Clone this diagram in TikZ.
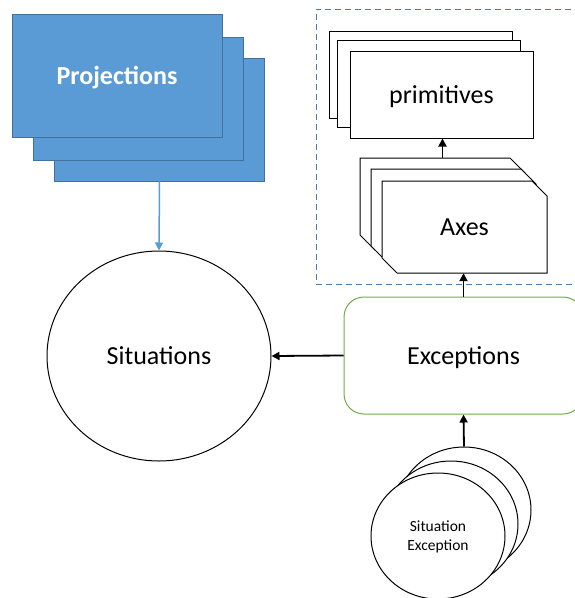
\documentclass[tikz,border=0pt]{standalone}
\usepackage{fontspec}
\setmainfont{Carlito}
\usetikzlibrary{shapes.geometric,arrows.meta}
\definecolor{projfill}{HTML}{5B9BD5}
\definecolor{projline}{HTML}{41719C}
\definecolor{exgreen}{HTML}{70AD47}
\definecolor{grpblue}{HTML}{4F79A7}
\tikzset{
  bigtext/.style={font=\fontsize{26}{30}\selectfont, text height=17.8pt, text depth=0pt},
  projbox/.style={rectangle, fill=projfill, draw=projline, line width=0.9pt, minimum width=210pt, minimum height=123pt, inner sep=0pt},
  primbox/.style={rectangle, fill=white, draw=black, line width=1pt, minimum width=183pt, minimum height=87pt, inner sep=0pt, bigtext},
  axesanchor/.style={rectangle, minimum width=165pt, minimum height=92pt, inner sep=0pt, bigtext},
  snipline/.style={fill=white, draw=black, line width=1pt, line join=miter},
  bigcirc/.style={ellipse, draw=black, line width=1pt, fill=white, minimum width=224pt, minimum height=210pt, inner sep=0pt, bigtext},
  smallcirc/.style={ellipse, draw=black, line width=1pt, fill=white, minimum width=134pt, minimum height=126pt, inner sep=0pt, align=center, font=\fontsize{15.5}{19}\selectfont},
  excbox/.style={rectangle, rounded corners=20pt, draw=exgreen, line width=1pt, fill=white, minimum width=239pt, minimum height=117pt, inner sep=0pt, bigtext},
  grpbox/.style={rectangle, draw=grpblue, line width=0.9pt, dash pattern=on 6pt off 4pt, minimum width=270pt, minimum height=275pt, inner sep=0pt},
  blackarrow/.style={draw=black, line width=1.8pt, -{Triangle[length=8pt,width=8pt]}},
  bluearrow/.style={draw=projfill, line width=1.5pt, -{Triangle[length=8pt,width=8pt]}}
}
\newcommand\snipshape[2]{\path[snipline] (#1-82.5,#2-46) -- (#1+67.5,#2-46) -- (#1+82.5,#2-31) -- (#1+82.5,#2+46) -- (#1-67.5,#2+46) -- (#1-82.5,#2+31) -- cycle;}
\begin{document}
\begin{tikzpicture}[x=1pt,y=-1pt]
\clip (0,0) rectangle (575,598);
\fill[white] (0,0) rectangle (575,598);
% Projections stack
\node[projbox] (projC) at (159.5,119.5) {};
\node[projbox] (projB) at (138,98.5) {};
\node[projbox, text=white, bigtext, font=\bfseries\fontsize{26}{30}\selectfont] (proj) at (117,75.5) {Projections};
% Situations
\node[bigcirc] (sit) at (159,356) {Situations};
\draw[bluearrow] (projC.south) -- (sit.north);
% group box
\node[grpbox] (grp) at (451,146.5) {};
% primitives stack
\node[primbox] (primC) at (420.5,75) {};
\node[primbox] (primB) at (428.5,83.5) {};
\node[primbox] (prim) at (441.5,94.5) {primitives};
% Axes stack
\snipshape{442.5}{204}
\node[axesanchor] (axesC) at (442.5,204) {};
\snipshape{453.5}{215}
\snipshape{464.5}{227}
\node[axesanchor] (axes) at (464.5,227) {Axes};
\draw[blackarrow] (axesC.north) -- (axesC.north |- prim.south);
% Exceptions
\node[excbox] (exc) at (463.5,355.5) {Exceptions};
\draw[blackarrow] (exc.west) -- (sit.east);
\draw[blackarrow] (exc.north) -- (axes.south -| exc.north);
% Situation exception stack
\node[smallcirc] (seC) at (464,510) {};
\node[smallcirc] (seB) at (451,524) {};
\node[smallcirc, yshift=0pt, text depth=0pt] (se) at (438,536) {Situation\\Exception};
\draw[blackarrow] (seC.north) -- (exc.south);
\end{tikzpicture}
\end{document}
